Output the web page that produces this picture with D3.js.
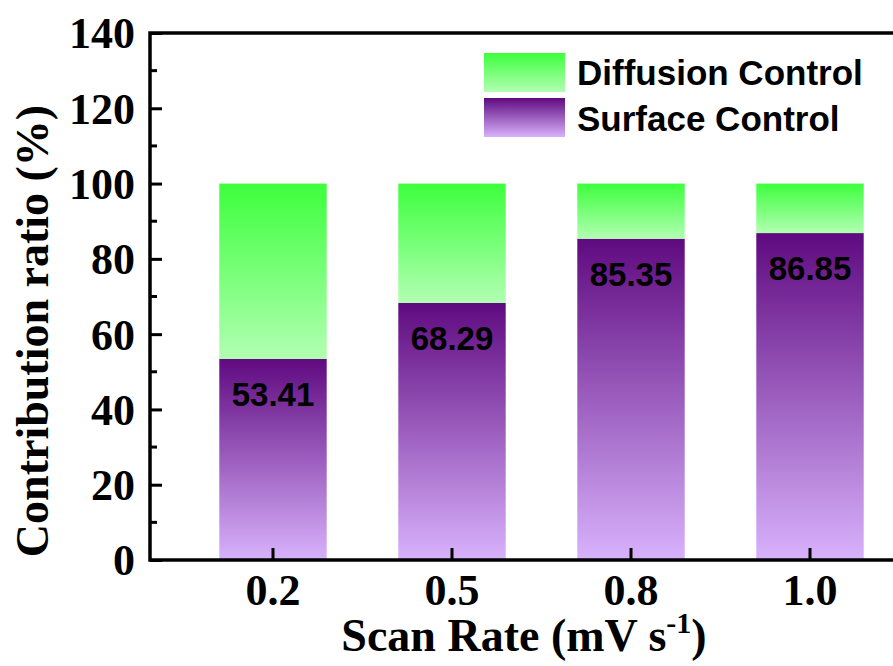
<!DOCTYPE html>
<html>
<head>
  <script src="https://d3js.org/d3.v7.min.js"></script>
  <style>
    body { margin: 0; background: #fff; }
  </style>
</head>
<body>
<svg id="chart"></svg>
<script>
  var categories = ["0.2", "0.5", "0.8", "1.0"];
  var surface = [53.41, 68.29, 85.35, 86.85];
  var yTicks = [0, 20, 40, 60, 80, 100, 120, 140];
  var legendLabels = ["Diffusion Control", "Surface Control"];

  var width = 893, height = 666;
  var mLeft = 150, mRight = 893, mTop = 33, mBottom = 560;
  var serif = "Liberation Serif, Times New Roman, serif";
  var sans = "Liberation Sans, Arial, sans-serif";

  var svg = d3.select("#chart")
    .attr("width", width)
    .attr("height", height);

  var defs = svg.append("defs");

  var gGreen = defs.append("linearGradient")
    .attr("id", "green").attr("x1", 0).attr("y1", 0).attr("x2", 0).attr("y2", 1);
  gGreen.append("stop").attr("offset", "0%").attr("stop-color", "#3dff3d");
  gGreen.append("stop").attr("offset", "100%").attr("stop-color", "#b2ffb2");

  var gPurple = defs.append("linearGradient")
    .attr("id", "purple").attr("x1", 0).attr("y1", 0).attr("x2", 0).attr("y2", 1);
  gPurple.append("stop").attr("offset", "0%").attr("stop-color", "#5f0a80");
  gPurple.append("stop").attr("offset", "100%").attr("stop-color", "#d8b2fc");

  var y = d3.scaleLinear().domain([0, 140]).range([mBottom, mTop]);

  var step = 179;
  var x = d3.scaleBand()
    .domain(categories)
    .range([273 - step / 2, 273 + step * 3.5])
    .paddingInner(0.4)
    .paddingOuter(0.2);

  // bars
  var bars = svg.append("g");
  bars.selectAll(".surface")
    .data(categories).enter()
    .append("rect")
    .attr("x", d => x(d))
    .attr("width", x.bandwidth())
    .attr("y", (d, i) => y(surface[i]))
    .attr("height", (d, i) => y(0) - y(surface[i]))
    .attr("fill", "url(#purple)");

  bars.selectAll(".diffusion")
    .data(categories).enter()
    .append("rect")
    .attr("x", d => x(d))
    .attr("width", x.bandwidth())
    .attr("y", y(100))
    .attr("height", (d, i) => y(surface[i]) - y(100))
    .attr("fill", "url(#green)");

  bars.selectAll(".val")
    .data(categories).enter()
    .append("text")
    .attr("x", d => x(d) + x.bandwidth() / 2)
    .attr("y", (d, i) => y(surface[i]) + 47)
    .attr("text-anchor", "middle")
    .style("font-family", sans)
    .style("font-weight", "bold")
    .style("font-size", "33px")
    .text((d, i) => surface[i].toFixed(2));

  // axes
  var yAxis = d3.axisLeft(y).tickValues(yTicks).tickSizeInner(-12).tickSizeOuter(0).tickPadding(15);
  var gy = svg.append("g").attr("transform", "translate(" + mLeft + ",0)").call(yAxis);
  gy.select(".domain").remove();
  gy.selectAll("line").attr("stroke-width", 3);
  gy.selectAll("text")
    .attr("dy", "0.34em")
    .style("font-family", serif)
    .style("font-weight", "bold")
    .style("font-size", "44px");

  var minor = d3.range(10, 140, 20);
  svg.append("g").selectAll("line")
    .data(minor).enter()
    .append("line")
    .attr("x1", mLeft).attr("x2", mLeft + 7)
    .attr("y1", d => y(d)).attr("y2", d => y(d))
    .attr("stroke", "#000").attr("stroke-width", 3);

  var xAxis = d3.axisBottom(x).tickSizeInner(-12).tickSizeOuter(0).tickPadding(14);
  var gx = svg.append("g").attr("transform", "translate(0," + mBottom + ")").call(xAxis);
  gx.select(".domain").remove();
  gx.selectAll("line").attr("stroke-width", 3);
  gx.selectAll("text")
    .style("font-family", serif)
    .style("font-weight", "bold")
    .style("font-size", "44px");

  // frame lines
  svg.append("path")
    .attr("d", "M" + mRight + "," + mTop + "H" + mLeft + "V" + mBottom + "H" + mRight)
    .attr("fill", "none")
    .attr("stroke", "#000")
    .attr("stroke-width", 3.5);

  // axis titles
  var xt = svg.append("text")
    .attr("x", 524).attr("y", 651)
    .attr("text-anchor", "middle")
    .style("font-family", serif)
    .style("font-weight", "bold")
    .style("font-size", "46px");
  xt.append("tspan").text("Scan Rate (mV s");
  xt.append("tspan").attr("dy", -18).style("font-size", "30px").text("-1");
  xt.append("tspan").attr("dy", 18).text(")");

  svg.append("text")
    .attr("transform", "translate(48,331) rotate(-90)")
    .attr("text-anchor", "middle")
    .style("font-family", serif)
    .style("font-weight", "bold")
    .style("font-size", "46px")
    .text("Contribution ratio (%)");

  // legend
  var legend = svg.append("g");
  var fills = ["url(#green)", "url(#purple)"];
  legendLabels.forEach(function(lab, i) {
    legend.append("rect")
      .attr("x", 484).attr("y", 53 + i * 45)
      .attr("width", 81).attr("height", 39)
      .attr("fill", fills[i]);
    legend.append("text")
      .attr("x", 577).attr("y", 85 + i * 46)
      .style("font-family", sans)
      .style("font-weight", "bold")
      .style("font-size", "35px")
      .text(lab);
  });
</script>
</body>
</html>
